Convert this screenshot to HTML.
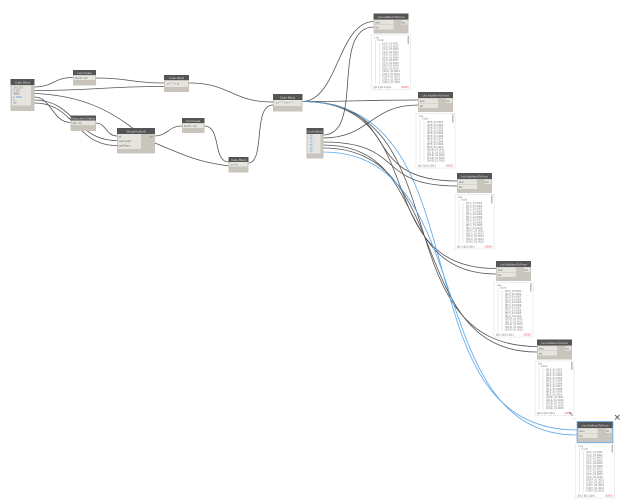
<!DOCTYPE html>
<html><head><meta charset="utf-8"><style>
html,body{margin:0;padding:0;background:#fff}
svg{display:block;font-family:"Liberation Sans",sans-serif}
.w{fill:none;stroke:#555;stroke-width:.8}
.b{fill:none;stroke:#5aa6e8;stroke-width:.8}
.n{fill:#c9c5bc}
.h{fill:#555}
.t{fill:#ddd;font-size:3px;text-anchor:middle}
.p{fill:#e6e4df}
.s{font-size:2.6px;fill:#666}
.l{fill:#fff;stroke:#ddd;stroke-width:.5}
.r{font-size:2.6px;fill:#777}
.c{font-size:2.6px;fill:#e05050;text-anchor:end}
.g{stroke:#ccc;stroke-width:.4;fill:none}
.sb{fill:#bbb}
</style></head><body>
<svg width="625" height="500" viewBox="0 0 625 500" xmlns="http://www.w3.org/2000/svg">
<!-- wires -->
<path class="w" d="M34 87C54 87 53 77.500 73 77.500"/>
<path class="w" d="M96 78C130 78 130 83 164 83"/>
<path class="w" d="M34 90.500C99 90.500 99 86.500 164 86.500"/>
<path class="w" d="M34 93.500C80 95 110 110 135 130"/>
<path class="w" d="M34 97C52 97 52 122.500 71 122.500"/>
<path class="w" d="M34 100C75 100 75 140.500 117 140.500"/>
<path class="w" d="M34 103C75 103 75 145.500 117 145.500"/>
<path class="w" d="M96 123C106 123 106 136 117 136"/>
<path class="w" d="M154 136C168 136 168 126 182 126"/>
<path class="w" d="M155 143C190 158 200 162 229 166"/>
<path class="w" d="M204 126C222 126 212 162 229 162"/>
<path class="w" d="M189 83C231 83 231 102 273 102"/>
<path class="w" d="M248 163C266 163 252 105 273 105"/>
<!-- main out -->
<path class="w" d="M302 101.500C338 101.500 338 21.500 374 21.500"/>
<path class="w" d="M302 101.500C360 101.500 360 100 418 100"/>
<path class="w" d="M302 101.500C407 101.500 353 181 457 181"/>
<path class="w" d="M302 101.500C434 101.500 366 268.500 496 268.500"/>
<path class="w" d="M302 101.500C462 101.500 380 346.500 537 346.500"/>
<path class="b" d="M302 101.500C490 101.500 393 430 577 430"/>
<!-- small block out -->
<path class="w" d="M323 135C365 135 330 27 374 27"/>
<path class="w" d="M323 138C370 138 370 105 418 105"/>
<path class="w" d="M323 142C406 142 374 186 457 186"/>
<path class="w" d="M323 145C430 145 389 274 496 274"/>
<path class="w" d="M323 148C456 148 404 352 537 352"/>
<path class="b" d="M323 152C481 152 419 435 577 435"/>

<!-- Code Block left -->
<rect class="n" x="10.500" y="79" width="24" height="32"/><rect class="h" x="10.500" y="79" width="24" height="6"/>
<text class="t" x="22.500" y="83.500">Code Block</text>
<rect class="p" x="12" y="85.500" width="19" height="20"/>
<text class="s" x="13" y="88.500">"LVL 01";</text><text class="s" x="13" y="91.500">"L 02";</text><text class="s" x="13" y="94.500">"Wall";</text>
<text class="s" x="13" y="98" style="fill:#4a90d8">1..1000;</text><text class="s" x="13" y="101" style="fill:#4a90d8">4;</text><text class="s" x="13" y="104">"0";</text>

<!-- Num -->
<rect class="n" x="73" y="70" width="23" height="15.500"/><rect class="h" x="73" y="70" width="23" height="5"/>
<text class="t" x="84.500" y="74">List.Create</text><rect class="p" x="74" y="75.500" width="21" height="4.500"/><text class="s" x="75" y="79">item0 &gt; list</text>

<!-- CB2 -->
<rect class="n" x="164" y="75" width="25" height="17"/><rect class="h" x="164" y="75" width="25" height="5"/>
<text class="t" x="176.500" y="79">Code Block</text><rect class="p" x="165" y="81" width="23" height="6"/><text class="s" x="167" y="84.500">a + "-" + b;</text>

<!-- String from Object -->
<rect class="n" x="70.500" y="115.500" width="25.500" height="15.500"/><rect class="h" x="70.500" y="115.500" width="25.500" height="5"/>
<text class="t" x="83" y="119.500">String from Object</text><rect class="p" x="71.500" y="120.500" width="23.500" height="4.500"/><text class="s" x="72.500" y="124">obj &gt; str</text>

<!-- String Pad Left -->
<rect class="n" x="117" y="128" width="38" height="25.500"/><rect class="h" x="117" y="128" width="38" height="6"/>
<text class="t" x="136" y="132.500">String.PadLeft</text><rect class="p" x="118" y="134" width="23" height="15"/>
<text class="s" x="118.500" y="137.500">str</text><text class="s" x="118.500" y="142">newLength</text><text class="s" x="118.500" y="146.500">padChars</text><text class="s" x="150" y="137.500">str</text>

<!-- Code block upper -->
<rect class="n" x="182" y="118" width="22.500" height="15"/><rect class="h" x="182" y="118" width="22.500" height="5"/>
<text class="t" x="193" y="122">List.Create</text><rect class="p" x="183" y="123.500" width="20.500" height="4.500"/><text class="s" x="184" y="127">item0 &gt; list</text>

<!-- Code block lower -->
<rect class="n" x="228.500" y="157" width="20" height="15.500"/><rect class="h" x="228.500" y="157" width="20" height="5"/>
<text class="t" x="238.500" y="161">Code Block</text><rect class="p" x="229.500" y="162" width="18" height="4.500"/><text class="s" x="231" y="165.500">a + b;</text>

<!-- Main -->
<rect class="n" x="273" y="94" width="29.500" height="17.500"/><rect class="h" x="273" y="94" width="29.500" height="6"/>
<text class="t" x="287.500" y="98.500">Code Block</text><rect class="p" x="274" y="100" width="27.500" height="6"/><text class="s" x="276" y="103.500">a + "-" + b + "-";</text>

<!-- small CB -->
<rect class="n" x="306.500" y="128" width="17" height="30.500"/><rect class="h" x="306.500" y="128" width="17" height="6"/>
<text class="t" x="315" y="132.500">Code Block</text><rect class="p" x="307.500" y="134" width="13" height="19.500"/>
<text class="s" style="fill:#4a90d8" x="309.500" y="136.500">"A";</text><text class="s" style="fill:#4a90d8" x="309.500" y="139.500">"B";</text><text class="s" style="fill:#4a90d8" x="309.500" y="143">"C";</text><text class="s" style="fill:#4a90d8" x="309.500" y="146">"D";</text><text class="s" style="fill:#4a90d8" x="309.500" y="149.500">"E";</text><text class="s" style="fill:#4a90d8" x="309.500" y="152.500">"F";</text>

<!-- Watch 1 -->
<g transform="translate(373.500 13.500)">
<rect class="n" width="35" height="20"/><rect class="h" width="35" height="6"/><text class="t" x="17.500" y="4.300">List.AddItemToFront</text>
<rect class="p" x="1" y="6.500" width="19" height="4.500"/><rect class="p" x="1" y="11.500" width="19" height="4.500"/><rect class="p" x="28" y="6.500" width="6" height="4.500"/>
<text class="s" x="2" y="10">item</text><text class="s" x="2" y="15">list</text><text class="s" x="28.500" y="10">list</text>
<g transform="translate(-2 21.500)"><rect class="l" width="39" height="54.500"/><rect class="sb" x="36" y="1" width="1.500" height="8"/><path class="g" d="M4 5V49M8 8V49"/>
<text class="r" x="3" y="3.500">List</text><text class="r" x="6" y="6">0 List</text>
<text class="r"><tspan x="11" y="9.500">[0] A_01 0001</tspan><tspan x="11" dy="2.750">[1] A_01 0002</tspan><tspan x="11" dy="2.750">[2] A_01 0003</tspan><tspan x="11" dy="2.750">[3] A_01 0004</tspan><tspan x="11" dy="2.750">[4] A_01 0005</tspan><tspan x="11" dy="2.750">[5] A_01 0006</tspan><tspan x="11" dy="2.750">[6] A_01 0007</tspan><tspan x="11" dy="2.750">[7] A_01 0008</tspan><tspan x="11" dy="2.750">[8] A_01 0009</tspan><tspan x="11" dy="2.750">[9] A_01 0010</tspan><tspan x="11" dy="2.750">[10] A_01 0011</tspan><tspan x="11" dy="2.750">[11] A_01 0012</tspan><tspan x="11" dy="2.750">[12] A_01 0013</tspan><tspan x="11" dy="2.750">[13] A_01 0014</tspan><tspan x="11" dy="2.750">[14] A_01 0015</tspan></text>
<text class="r" x="2" y="53">@L3 @L2 @L1</text><text class="c" x="37" y="53">{1000}</text></g></g>

<!-- Watch 2 -->
<g transform="translate(418 92)">
<rect class="n" width="35" height="20"/><rect class="h" width="35" height="6"/><text class="t" x="17.500" y="4.300">List.AddItemToFront</text>
<rect class="p" x="1" y="6.500" width="19" height="4.500"/><rect class="p" x="1" y="11.500" width="19" height="4.500"/><rect class="p" x="28" y="6.500" width="6" height="4.500"/>
<text class="s" x="2" y="10">item</text><text class="s" x="2" y="15">list</text><text class="s" x="28.500" y="10">list</text>
<g transform="translate(-2 21.500)"><rect class="l" width="39" height="54.500"/><rect class="sb" x="36" y="1" width="1.500" height="8"/><path class="g" d="M4 5V49M8 8V49"/>
<text class="r" x="3" y="3.500">List</text><text class="r" x="6" y="6">0 List</text>
<text class="r"><tspan x="11" y="9.500">[0] B_01 0001</tspan><tspan x="11" dy="2.750">[1] B_01 0002</tspan><tspan x="11" dy="2.750">[2] B_01 0003</tspan><tspan x="11" dy="2.750">[3] B_01 0004</tspan><tspan x="11" dy="2.750">[4] B_01 0005</tspan><tspan x="11" dy="2.750">[5] B_01 0006</tspan><tspan x="11" dy="2.750">[6] B_01 0007</tspan><tspan x="11" dy="2.750">[7] B_01 0008</tspan><tspan x="11" dy="2.750">[8] B_01 0009</tspan><tspan x="11" dy="2.750">[9] B_01 0010</tspan><tspan x="11" dy="2.750">[10] B_01 0011</tspan><tspan x="11" dy="2.750">[11] B_01 0012</tspan><tspan x="11" dy="2.750">[12] B_01 0013</tspan><tspan x="11" dy="2.750">[13] B_01 0014</tspan><tspan x="11" dy="2.750">[14] B_01 0015</tspan></text>
<text class="r" x="2" y="53">@L3 @L2 @L1</text><text class="c" x="37" y="53">{1000}</text></g></g>

<!-- Watch 3 -->
<g transform="translate(457 173)">
<rect class="n" width="35" height="20"/><rect class="h" width="35" height="6"/><text class="t" x="17.500" y="4.300">List.AddItemToFront</text>
<rect class="p" x="1" y="6.500" width="19" height="4.500"/><rect class="p" x="1" y="11.500" width="19" height="4.500"/><rect class="p" x="28" y="6.500" width="6" height="4.500"/>
<text class="s" x="2" y="10">item</text><text class="s" x="2" y="15">list</text><text class="s" x="28.500" y="10">list</text>
<g transform="translate(-2 21.500)"><rect class="l" width="39" height="54.500"/><rect class="sb" x="36" y="1" width="1.500" height="8"/><path class="g" d="M4 5V49M8 8V49"/>
<text class="r" x="3" y="3.500">List</text><text class="r" x="6" y="6">0 List</text>
<text class="r"><tspan x="11" y="9.500">[0] C_01 0001</tspan><tspan x="11" dy="2.750">[1] C_01 0002</tspan><tspan x="11" dy="2.750">[2] C_01 0003</tspan><tspan x="11" dy="2.750">[3] C_01 0004</tspan><tspan x="11" dy="2.750">[4] C_01 0005</tspan><tspan x="11" dy="2.750">[5] C_01 0006</tspan><tspan x="11" dy="2.750">[6] C_01 0007</tspan><tspan x="11" dy="2.750">[7] C_01 0008</tspan><tspan x="11" dy="2.750">[8] C_01 0009</tspan><tspan x="11" dy="2.750">[9] C_01 0010</tspan><tspan x="11" dy="2.750">[10] C_01 0011</tspan><tspan x="11" dy="2.750">[11] C_01 0012</tspan><tspan x="11" dy="2.750">[12] C_01 0013</tspan><tspan x="11" dy="2.750">[13] C_01 0014</tspan><tspan x="11" dy="2.750">[14] C_01 0015</tspan></text>
<text class="r" x="2" y="53">@L3 @L2 @L1</text><text class="c" x="37" y="53">{1000}</text></g></g>

<!-- Watch 4 -->
<g transform="translate(496 261)">
<rect class="n" width="35" height="20"/><rect class="h" width="35" height="6"/><text class="t" x="17.500" y="4.300">List.AddItemToFront</text>
<rect class="p" x="1" y="6.500" width="19" height="4.500"/><rect class="p" x="1" y="11.500" width="19" height="4.500"/><rect class="p" x="28" y="6.500" width="6" height="4.500"/>
<text class="s" x="2" y="10">item</text><text class="s" x="2" y="15">list</text><text class="s" x="28.500" y="10">list</text>
<g transform="translate(-2 21.500)"><rect class="l" width="39" height="54.500"/><rect class="sb" x="36" y="1" width="1.500" height="8"/><path class="g" d="M4 5V49M8 8V49"/>
<text class="r" x="3" y="3.500">List</text><text class="r" x="6" y="6">0 List</text>
<text class="r"><tspan x="11" y="9.500">[0] D_01 0001</tspan><tspan x="11" dy="2.750">[1] D_01 0002</tspan><tspan x="11" dy="2.750">[2] D_01 0003</tspan><tspan x="11" dy="2.750">[3] D_01 0004</tspan><tspan x="11" dy="2.750">[4] D_01 0005</tspan><tspan x="11" dy="2.750">[5] D_01 0006</tspan><tspan x="11" dy="2.750">[6] D_01 0007</tspan><tspan x="11" dy="2.750">[7] D_01 0008</tspan><tspan x="11" dy="2.750">[8] D_01 0009</tspan><tspan x="11" dy="2.750">[9] D_01 0010</tspan><tspan x="11" dy="2.750">[10] D_01 0011</tspan><tspan x="11" dy="2.750">[11] D_01 0012</tspan><tspan x="11" dy="2.750">[12] D_01 0013</tspan><tspan x="11" dy="2.750">[13] D_01 0014</tspan><tspan x="11" dy="2.750">[14] D_01 0015</tspan></text>
<text class="r" x="2" y="53">@L3 @L2 @L1</text><text class="c" x="37" y="53">{1000}</text></g></g>

<!-- Watch 5 -->
<g transform="translate(537 339.500)">
<rect class="n" width="35" height="20"/><rect class="h" width="35" height="6"/><text class="t" x="17.500" y="4.300">List.AddItemToFront</text>
<rect class="p" x="1" y="6.500" width="19" height="4.500"/><rect class="p" x="1" y="11.500" width="19" height="4.500"/><rect class="p" x="28" y="6.500" width="6" height="4.500"/>
<text class="s" x="2" y="10">item</text><text class="s" x="2" y="15">list</text><text class="s" x="28.500" y="10">list</text>
<g transform="translate(-2 21.500)"><rect class="l" width="39" height="54.500"/><rect class="sb" x="36" y="1" width="1.500" height="8"/><path class="g" d="M4 5V49M8 8V49"/>
<text class="r" x="3" y="3.500">List</text><text class="r" x="6" y="6">0 List</text>
<text class="r"><tspan x="11" y="9.500">[0] E_01 0001</tspan><tspan x="11" dy="2.750">[1] E_01 0002</tspan><tspan x="11" dy="2.750">[2] E_01 0003</tspan><tspan x="11" dy="2.750">[3] E_01 0004</tspan><tspan x="11" dy="2.750">[4] E_01 0005</tspan><tspan x="11" dy="2.750">[5] E_01 0006</tspan><tspan x="11" dy="2.750">[6] E_01 0007</tspan><tspan x="11" dy="2.750">[7] E_01 0008</tspan><tspan x="11" dy="2.750">[8] E_01 0009</tspan><tspan x="11" dy="2.750">[9] E_01 0010</tspan><tspan x="11" dy="2.750">[10] E_01 0011</tspan><tspan x="11" dy="2.750">[11] E_01 0012</tspan><tspan x="11" dy="2.750">[12] E_01 0013</tspan><tspan x="11" dy="2.750">[13] E_01 0014</tspan><tspan x="11" dy="2.750">[14] E_01 0015</tspan></text>
<text class="r" x="2" y="53">@L3 @L2 @L1</text><text class="c" x="37" y="53">{1000}</text></g></g>

<!-- Watch 6 (selected) -->
<g transform="translate(577.500 422)">
<rect class="n" width="35" height="20"/><rect class="h" width="35" height="6"/><text class="t" x="17.500" y="4.300">List.AddItemToFront</text>
<rect x="-.4" y="-.4" width="35.800" height="20.800" fill="none" stroke="#5aa6e8" stroke-width=".8"/>
<rect class="p" x="1" y="6.500" width="19" height="4.500"/><rect class="p" x="1" y="11.500" width="19" height="4.500"/><rect class="p" x="28" y="6.500" width="6" height="4.500"/>
<text class="s" x="2" y="10">item</text><text class="s" x="2" y="15">list</text><text class="s" x="28.500" y="10">list</text>
<g transform="translate(-2 21.500)"><rect class="l" width="39" height="54.500"/><rect class="sb" x="36" y="1" width="1.500" height="8"/><path class="g" d="M4 5V49M8 8V49"/>
<text class="r" x="3" y="3.500">List</text><text class="r" x="6" y="6">0 List</text>
<text class="r"><tspan x="11" y="9.500">[0] F_01 0001</tspan><tspan x="11" dy="2.750">[1] F_01 0002</tspan><tspan x="11" dy="2.750">[2] F_01 0003</tspan><tspan x="11" dy="2.750">[3] F_01 0004</tspan><tspan x="11" dy="2.750">[4] F_01 0005</tspan><tspan x="11" dy="2.750">[5] F_01 0006</tspan><tspan x="11" dy="2.750">[6] F_01 0007</tspan><tspan x="11" dy="2.750">[7] F_01 0008</tspan><tspan x="11" dy="2.750">[8] F_01 0009</tspan><tspan x="11" dy="2.750">[9] F_01 0010</tspan><tspan x="11" dy="2.750">[10] F_01 0011</tspan><tspan x="11" dy="2.750">[11] F_01 0012</tspan><tspan x="11" dy="2.750">[12] F_01 0013</tspan><tspan x="11" dy="2.750">[13] F_01 0014</tspan><tspan x="11" dy="2.750">[14] F_01 0015</tspan></text>
<text class="r" x="2" y="53">@L3 @L2 @L1</text><text class="c" x="37" y="53">{1000}</text></g></g>

<!-- resize cursor and X mark -->
<path d="M569 412l3.500 3.500M574 418.500l.5.500" stroke="#777" stroke-width=".8" fill="none"/>
<path d="M615 415l4.500 4.500M619.500 415l-4.500 4.500" stroke="#666" stroke-width="1" fill="none"/>
</svg>
</body></html>
